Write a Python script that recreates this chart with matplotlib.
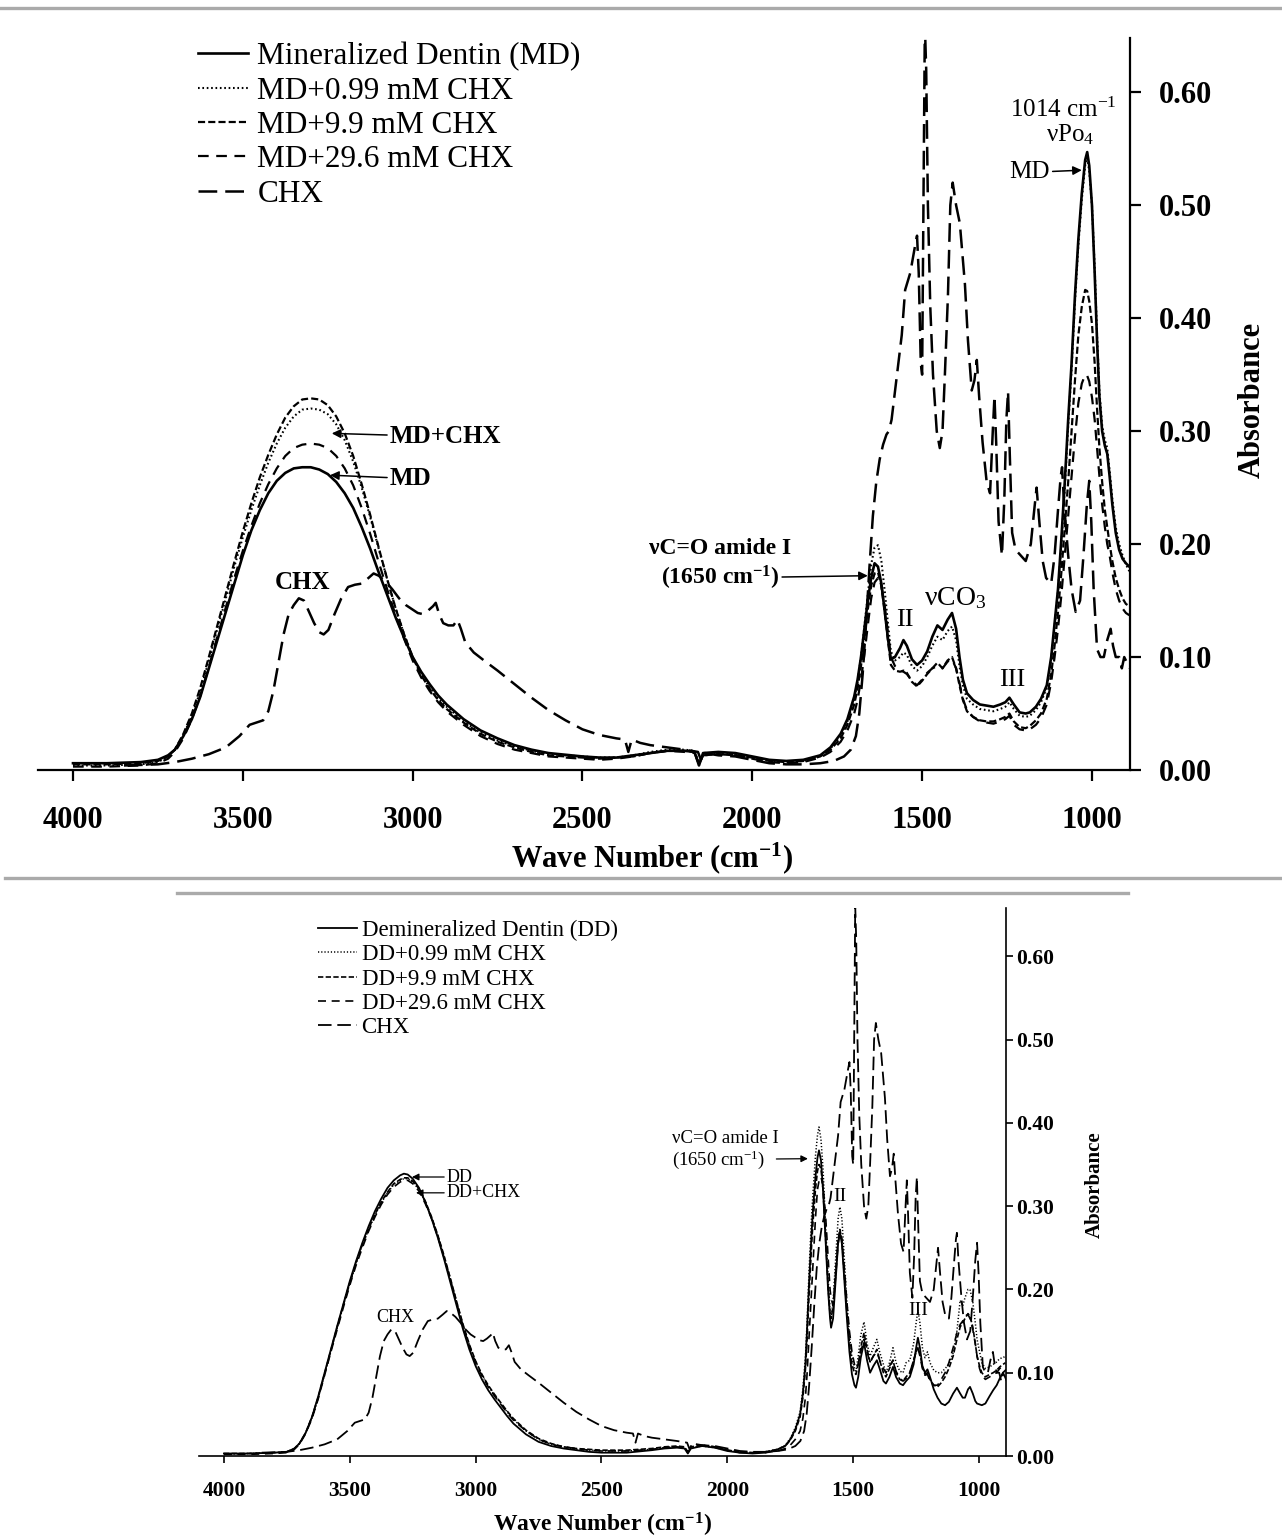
import matplotlib
matplotlib.use("Agg")
import matplotlib.pyplot as plt
from matplotlib.lines import Line2D

plt.rcParams['font.family'] = ['Liberation Serif', 'DejaVu Serif']
plt.rcParams['mathtext.default'] = 'regular'

# ---------------- data: top panel (mineralized dentin) ----------------
wn_top = [4000, 3900, 3800, 3750, 3720, 3700, 3675, 3650, 3625, 3600,
          3575, 3550, 3525, 3500, 3475, 3450, 3425, 3400, 3375, 3350,
          3325, 3300, 3275, 3250, 3225, 3200, 3175, 3150, 3125, 3100,
          3075, 3050, 3025, 3000, 2975, 2950, 2925, 2900, 2850, 2800,
          2750, 2700, 2650, 2600, 2500, 2450, 2400, 2350, 2300, 2250,
          2200, 2170, 2157, 2145, 2100, 2050, 2000, 1950, 1900, 1850,
          1800, 1770, 1740, 1720, 1700, 1690, 1680, 1670, 1660, 1650,
          1640, 1630, 1620, 1610, 1600, 1592, 1580, 1565, 1555, 1545,
          1530, 1515, 1500, 1485, 1470, 1455, 1440, 1425, 1412, 1400,
          1390, 1380, 1368, 1350, 1330, 1310, 1290, 1270, 1255, 1243,
          1230, 1213, 1195, 1183, 1165, 1150, 1133, 1120, 1110, 1100,
          1090, 1080, 1070, 1060, 1050, 1040, 1030, 1020, 1014, 1008,
          1000, 992, 985, 978, 970, 962, 955, 948, 940, 930,
          920, 910, 900, 890]

md = [.006, .006, .007, .009, .013, .018, .030, .045, .065, .090,
      .115, .140, .165, .190, .212, .230, .245, .256, .263, .267,
      .268, .268, .266, .262, .255, .245, .232, .215, .196, .175,
      .155, .135, .117, .100, .087, .076, .066, .058, .045, .035,
      .028, .022, .018, .015, .012, .011, .011, .013, .015, .017,
      .017, .016, .004, .015, .016, .015, .012, .009, .008, .009,
      .013, .020, .032, .045, .065, .080, .100, .125, .150, .170,
      .183, .180, .165, .140, .115, .098, .100, .108, .115, .110,
      .098, .093, .097, .105, .118, .128, .124, .133, .139, .125,
      .100, .080, .068, .062, .058, .057, .056, .058, .060, .064,
      .058, .051, .050, .051, .056, .063, .075, .100, .130, .160,
      .205, .255, .310, .360, .420, .470, .510, .540, .547, .535,
      .500, .440, .380, .330, .300, .287, .280, .260, .235, .210,
      .195, .187, .183, .180]

md_099 = [.004, .004, .005, .007, .012, .018, .031, .048, .070, .097,
          .125, .152, .180, .206, .230, .252, .272, .289, .303, .313,
          .319, .320, .319, .315, .306, .292, .273, .250, .224, .196,
          .169, .143, .120, .100, .085, .073, .063, .056, .043, .033,
          .026, .021, .017, .014, .012, .011, .011, .013, .016, .018,
          .018, .017, .005, .014, .015, .014, .011, .008, .007, .008,
          .012, .019, .030, .043, .063, .078, .100, .127, .155, .182,
          .197, .199, .185, .158, .128, .105, .097, .100, .104, .102,
          .092, .088, .092, .100, .110, .118, .115, .123, .127, .115,
          .092, .075, .063, .058, .054, .053, .052, .054, .056, .060,
          .054, .048, .047, .048, .053, .060, .073, .098, .127, .158,
          .200, .250, .305, .355, .415, .465, .505, .535, .542, .530,
          .500, .445, .385, .335, .305, .292, .285, .265, .240, .215,
          .200, .190, .182, .176]

md_99 = [.005, .005, .006, .008, .012, .018, .032, .050, .073, .100,
         .128, .156, .184, .211, .236, .259, .279, .297, .312, .322,
         .328, .329, .328, .323, .313, .298, .278, .253, .226, .197,
         .169, .143, .120, .100, .084, .072, .062, .054, .042, .032,
         .025, .020, .016, .013, .011, .010, .011, .012, .015, .017,
         .017, .016, .005, .013, .014, .013, .011, .008, .007, .008,
         .012, .018, .028, .040, .058, .072, .092, .117, .142, .163,
         .174, .175, .163, .140, .113, .093, .088, .087, .088, .086,
         .078, .074, .079, .085, .090, .095, .090, .097, .100, .090,
         .075, .062, .052, .047, .044, .043, .043, .045, .047, .050,
         .043, .038, .037, .039, .044, .050, .063, .085, .110, .140,
         .175, .215, .255, .300, .345, .385, .410, .425, .424, .415,
         .395, .360, .320, .285, .255, .230, .215, .200, .185, .170,
         .160, .152, .147, .145]

md_296 = [.003, .003, .004, .006, .010, .016, .028, .045, .066, .091,
          .118, .144, .170, .194, .216, .236, .253, .267, .278, .285,
          .288, .289, .288, .285, .278, .267, .252, .232, .209, .184,
          .160, .137, .116, .097, .082, .070, .060, .052, .040, .030,
          .023, .018, .015, .012, .010, .009, .010, .012, .015, .017,
          .016, .015, .005, .013, .014, .013, .010, .007, .006, .007,
          .011, .016, .025, .035, .050, .062, .080, .102, .128, .152,
          .166, .170, .163, .145, .120, .100, .092, .088, .087, .085,
          .079, .075, .080, .086, .090, .092, .090, .096, .098, .090,
          .077, .063, .053, .047, .043, .042, .041, .043, .045, .048,
          .040, .036, .035, .036, .040, .046, .058, .078, .100, .125,
          .155, .190, .225, .260, .295, .325, .342, .350, .349, .344,
          .330, .310, .285, .260, .235, .215, .200, .190, .175, .160,
          .150, .143, .139, .137]

# ---------------- data: chlorhexidine alone (both panels) ----------------
chx_wn = [3850, 3750, 3700, 3650, 3600, 3550, 3510, 3480, 3460, 3440,
          3425, 3410, 3395, 3380, 3365, 3350, 3335, 3320, 3305, 3290,
          3275, 3262, 3248, 3230, 3210, 3190, 3170, 3150, 3130, 3115,
          3100, 3080, 3060, 3040, 3020, 3000, 2985, 2970, 2955, 2940,
          2932, 2922, 2910, 2895, 2880, 2868, 2858, 2845, 2820, 2790,
          2750, 2700, 2650, 2600, 2550, 2500, 2450, 2400, 2375, 2365,
          2355, 2330, 2300, 2250, 2200, 2160, 2150, 2140, 2100, 2050,
          2000, 1950, 1900, 1850, 1800, 1760, 1730, 1710, 1695, 1685,
          1675, 1665, 1655, 1645, 1635, 1625, 1615, 1605, 1598, 1590,
          1580, 1570, 1560, 1550, 1535, 1522, 1515, 1510, 1504, 1500,
          1496, 1492, 1488, 1483, 1476, 1468, 1457, 1448, 1440, 1433,
          1424, 1417, 1410, 1400, 1389, 1374, 1365, 1354, 1346, 1339,
          1332, 1322, 1310, 1300, 1292, 1287, 1282, 1275, 1265, 1258,
          1252, 1247, 1242, 1235, 1225, 1210, 1195, 1180, 1170, 1163,
          1155, 1145, 1135, 1120, 1110, 1100, 1092, 1088, 1082, 1070,
          1060, 1048, 1035, 1025, 1015, 1008, 1002, 995, 985, 975,
          965, 955, 945, 938, 930, 920, 912, 905, 897, 890]

chx_abs = [.004, .005, .007, .010, .014, .020, .030, .040, .042, .044,
           .052, .070, .095, .120, .138, .146, .152, .150, .140, .130,
           .122, .120, .124, .138, .152, .162, .164, .165, .170, .174,
           .172, .167, .160, .152, .146, .142, .139, .138, .141, .145,
           .148, .138, .130, .128, .128, .133, .125, .113, .104, .097,
           .088, .076, .064, .053, .044, .036, .031, .028, .027, .016,
           .027, .024, .022, .020, .018, .016, .008, .015, .013, .012,
           .009, .006, .005, .005, .006, .008, .012, .018, .030, .050,
           .085, .130, .180, .225, .255, .275, .288, .297, .300, .310,
           .335, .360, .385, .425, .440, .462, .473, .440, .360, .350,
           .500, .660, .620, .500, .410, .350, .300, .285, .300, .350,
           .420, .500, .520, .500, .484, .430, .380, .336, .345, .363,
           .330, .290, .255, .245, .300, .331, .290, .220, .190, .240,
           .310, .335, .280, .210, .195, .190, .185, .200, .230, .250,
           .220, .185, .170, .165, .190, .230, .260, .268, .235, .190,
           .160, .140, .150, .190, .235, .256, .220, .160, .107, .100,
           .100, .115, .125, .110, .100, .100, .090, .100, .095, .090]

# ---------------- data: bottom panel (demineralized dentin) ----------------
wn_bot = [4000, 3900, 3800, 3750, 3720, 3700, 3675, 3650, 3625, 3600,
          3575, 3550, 3525, 3500, 3475, 3450, 3425, 3400, 3375, 3350,
          3325, 3300, 3285, 3270, 3250, 3225, 3200, 3175, 3150, 3125,
          3100, 3075, 3050, 3025, 3000, 2975, 2950, 2925, 2900, 2875,
          2850, 2800, 2750, 2700, 2650, 2600, 2550, 2500, 2400, 2300,
          2250, 2200, 2170, 2157, 2145, 2100, 2050, 2000, 1950, 1900,
          1850, 1800, 1770, 1750, 1730, 1711, 1700, 1690, 1684, 1675,
          1665, 1660, 1650, 1642, 1636, 1628, 1620, 1610, 1600, 1592,
          1588, 1580, 1570, 1560, 1553, 1545, 1535, 1525, 1515, 1505,
          1495, 1489, 1480, 1470, 1457, 1445, 1433, 1420, 1406, 1395,
          1380, 1370, 1356, 1342, 1330, 1315, 1302, 1290, 1275, 1260,
          1250, 1243, 1235, 1225, 1215, 1205, 1195, 1180, 1165, 1150,
          1135, 1120, 1103, 1088, 1075, 1065, 1056, 1044, 1036, 1025,
          1015, 1008, 998, 989, 975, 958, 944, 930, 918, 905,
          895]

dd = [.003, .003, .004, .005, .009, .015, .028, .047, .072, .100,
      .128, .156, .183, .210, .234, .256, .276, .294, .309, .322,
      .331, .337, .339, .338, .333, .322, .305, .285, .262, .236,
      .208, .180, .152, .128, .108, .092, .079, .068, .058, .048,
      .039, .026, .017, .012, .009, .007, .005, .004, .004, .007,
      .009, .010, .009, .003, .009, .012, .010, .006, .004, .003,
      .004, .008, .012, .020, .032, .050, .075, .110, .148, .210,
      .270, .295, .335, .358, .367, .355, .320, .260, .200, .165,
      .154, .165, .210, .255, .269, .255, .210, .165, .125, .098,
      .085, .082, .095, .118, .136, .115, .100, .108, .115, .105,
      .090, .087, .095, .107, .095, .087, .085, .090, .095, .110,
      .130, .142, .130, .108, .100, .104, .095, .080, .070, .063,
      .061, .065, .075, .082, .075, .070, .070, .080, .083, .075,
      .066, .063, .062, .061, .063, .072, .079, .085, .093, .100,
      .103]

dd_099 = [.002, .003, .004, .005, .009, .015, .028, .046, .070, .098,
          .126, .154, .181, .207, .231, .253, .272, .289, .304, .316,
          .326, .331, .333, .333, .329, .320, .305, .286, .264, .239,
          .212, .184, .157, .133, .113, .097, .084, .073, .063, .053,
          .044, .030, .020, .014, .011, .008, .007, .006, .006, .008,
          .010, .011, .010, .004, .010, .012, .010, .007, .005, .004,
          .005, .008, .013, .021, .034, .053, .080, .118, .155, .225,
          .290, .315, .360, .385, .395, .380, .345, .280, .215, .175,
          .165, .185, .235, .285, .299, .285, .235, .185, .145, .118,
          .105, .102, .120, .145, .161, .135, .120, .130, .140, .125,
          .110, .100, .112, .130, .112, .102, .100, .112, .115, .135,
          .160, .175, .160, .130, .118, .125, .112, .103, .100, .100,
          .105, .110, .124, .150, .187, .180, .190, .200, .200, .185,
          .160, .140, .125, .112, .105, .107, .110, .113, .117, .118,
          .120]

dd_99 = [.003, .003, .004, .005, .009, .015, .028, .047, .071, .099,
         .127, .155, .182, .208, .232, .254, .273, .290, .305, .317,
         .327, .332, .334, .334, .330, .321, .306, .287, .265, .240,
         .213, .185, .158, .134, .114, .098, .085, .074, .064, .054,
         .045, .031, .021, .015, .011, .009, .008, .007, .007, .009,
         .011, .012, .011, .005, .011, .013, .011, .007, .005, .004,
         .005, .008, .012, .019, .030, .047, .070, .103, .135, .197,
         .255, .280, .320, .342, .350, .345, .320, .265, .205, .170,
         .165, .180, .220, .260, .272, .260, .215, .172, .135, .110,
         .100, .098, .110, .130, .148, .128, .113, .120, .128, .115,
         .100, .095, .105, .115, .100, .092, .090, .095, .100, .115,
         .125, .130, .123, .107, .098, .100, .092, .085, .083, .088,
         .095, .105, .120, .140, .155, .160, .165, .171, .168, .155,
         .135, .120, .108, .100, .095, .098, .100, .103, .107, .110,
         .112]

dd_296 = [.002, .002, .003, .004, .008, .014, .027, .045, .069, .097,
          .125, .152, .179, .205, .229, .250, .270, .287, .302, .314,
          .323, .329, .331, .331, .327, .318, .303, .285, .263, .238,
          .211, .183, .156, .132, .112, .096, .083, .072, .062, .052,
          .043, .030, .020, .014, .011, .009, .007, .006, .006, .008,
          .010, .011, .010, .004, .010, .013, .011, .007, .004, .004,
          .004, .006, .009, .013, .020, .030, .045, .070, .095, .145,
          .200, .230, .285, .320, .330, .335, .325, .290, .240, .200,
          .190, .180, .215, .255, .268, .260, .225, .185, .150, .125,
          .110, .105, .110, .125, .140, .125, .112, .120, .125, .115,
          .105, .100, .108, .115, .102, .093, .090, .093, .100, .115,
          .125, .130, .120, .105, .097, .098, .090, .085, .085, .092,
          .100, .112, .130, .148, .158, .162, .168, .170, .165, .152,
          .135, .120, .105, .097, .092, .095, .098, .100, .105, .108,
          .110]

top_labels = ['Mineralized Dentin (MD)', 'MD+0.99 mM CHX', 'MD+9.9 mM CHX',
              'MD+29.6 mM CHX', 'CHX']
bot_labels = ['Demineralized Dentin (DD)', 'DD+0.99 mM CHX', 'DD+9.9 mM CHX',
              'DD+29.6 mM CHX', 'CHX']
x_ticks = [4000, 3500, 3000, 2500, 2000, 1500, 1000]
y_ticks = [0.0, 0.1, 0.2, 0.3, 0.4, 0.5, 0.6]

# ---------------- figure ----------------
W, H = 1282, 1537
fig = plt.figure(figsize=(W / 100, H / 100), dpi=100)


def fx(px):
    return px / W


def fy(py):
    return 1 - py / H


styles = [
    dict(ls='-'),
    dict(ls=(0, (0.8, 1.3))),
    dict(ls=(0, (3.2, 1.4))),
    dict(ls=(0, (4.8, 3.4))),
    dict(ls=(0, (7.5, 3.2))),
]


def setup_axes(ax, xlim, ylim, tsize, tlen, xpad, ypad, lw):
    ax.set_xlim(*xlim)
    ax.set_ylim(*ylim)
    ax.spines['top'].set_visible(False)
    ax.spines['left'].set_visible(False)
    ax.spines['right'].set_linewidth(lw)
    ax.spines['bottom'].set_linewidth(lw)
    ax.yaxis.tick_right()
    ax.set_xticks(x_ticks)
    ax.set_xticklabels([str(t) for t in x_ticks], fontsize=tsize, fontweight='bold')
    ax.set_yticks(y_ticks)
    ax.set_yticklabels(['%.2f' % t for t in y_ticks], fontsize=tsize, fontweight='bold')
    ax.tick_params(axis='x', direction='out', length=tlen, width=lw, pad=xpad)
    ax.tick_params(axis='y', direction='out', length=tlen, width=lw, pad=ypad)


# ---- top panel ----
ax1 = fig.add_axes([fx(38), fy(770), fx(1130) - fx(38), fy(38) - fy(770)])
setup_axes(ax1, (4103, 888), (0, 0.648), 22, 8, 18, 13, 1.6)
series_top = [(wn_top, md), (wn_top, md_099), (wn_top, md_99), (wn_top, md_296),
              (chx_wn, chx_abs)]
lws_top = [1.9, 1.5, 1.6, 1.6, 1.8]
for (x, y), st, lab, lw in zip(series_top, styles, top_labels, lws_top):
    ax1.plot(x, y, color='black', lw=lw, label=lab, **st)
ax1.legend(loc='upper left', bbox_to_anchor=(fx(198), fy(42)),
           bbox_transform=fig.transFigure, frameon=False, fontsize=22.5,
           handlelength=1.6, handletextpad=0.3, labelspacing=0.17,
           borderpad=0, borderaxespad=0)

fig.text(fx(652), fy(858), 'Wave Number (cm$^{-1}$)', fontsize=22,
         fontweight='bold', ha='center', va='center')
fig.text(fx(1252), fy(400), 'Absorbance', fontsize=22, fontweight='bold',
         rotation=90, ha='center', va='center')

arw = dict(arrowstyle='-|>', color='black', lw=1.1, mutation_scale=13,
           shrinkA=0, shrinkB=0)
ax1.annotate('MD+CHX', xy=(3238, 0.298), xytext=(3067, 0.295), fontsize=18,
             fontweight='bold', ha='left', va='center', arrowprops=arw)
ax1.annotate('MD', xy=(3243, 0.261), xytext=(3067, 0.258), fontsize=18,
             fontweight='bold', ha='left', va='center', arrowprops=arw)
ax1.text(3323, 0.166, 'CHX', fontsize=18, fontweight='bold', ha='center', va='center')
ax1.text(2095, 0.196, 'νC=O amide I', fontsize=17, fontweight='bold',
         ha='center', va='center')
ax1.annotate('(1650 cm$^{-1}$)', xy=(1660, 0.172), xytext=(2095, 0.170),
             fontsize=17, fontweight='bold', ha='center', va='center',
             arrowprops=dict(arw, shrinkA=62))
ax1.text(1551, 0.133, 'II', fontsize=19, ha='center', va='center')
ax1.text(1404, 0.152, 'νCO$_3$', fontsize=20, ha='center', va='center')
ax1.text(1236, 0.080, 'III', fontsize=19, ha='center', va='center')
ax1.text(1083, 0.584, '1014 cm$^{-1}$', fontsize=18, ha='center', va='center')
ax1.text(1065, 0.562, 'νPo$_4$', fontsize=18, ha='center', va='center')
ax1.annotate('MD', xy=(1030, 0.531), xytext=(1124, 0.529), fontsize=18,
             ha='right', va='center', arrowprops=arw)

# ---- bottom panel ----
ax2 = fig.add_axes([fx(199), fy(1456), fx(1006) - fx(199), fy(908) - fy(1456)])
setup_axes(ax2, (4099, 893), (0, 0.658), 15.5, 5, 13, 2, 1.2)
series_bot = [(wn_bot, dd), (wn_bot, dd_099), (wn_bot, dd_99), (wn_bot, dd_296),
              (chx_wn, chx_abs)]
lws_bot = [1.3, 1.1, 1.2, 1.2, 1.3]
for (x, y), st, lab, lw in zip(series_bot, styles, bot_labels, lws_bot):
    ax2.plot(x, y, color='black', lw=lw, label=lab, **st)
ax2.legend(loc='upper left', bbox_to_anchor=(fx(318), fy(920)),
           bbox_transform=fig.transFigure, frameon=False, fontsize=16.5,
           handlelength=1.7, handletextpad=0.2, labelspacing=0.14,
           borderpad=0, borderaxespad=0)

fig.text(fx(602), fy(1525), 'Wave Number (cm$^{-1}$)', fontsize=17,
         fontweight='bold', ha='center', va='center')
fig.text(fx(1095), fy(1185), 'Absorbance', fontsize=15, fontweight='bold',
         rotation=90, ha='center', va='center')

arw2 = dict(arrowstyle='-|>', color='black', lw=0.9, mutation_scale=10,
            shrinkA=0, shrinkB=0)
ax2.annotate('DD', xy=(3253, 0.335), xytext=(3114, 0.335), fontsize=13,
             ha='left', va='center', arrowprops=arw2)
ax2.annotate('DD+CHX', xy=(3237, 0.316), xytext=(3114, 0.316), fontsize=13,
             ha='left', va='center', arrowprops=arw2)
ax2.text(3321, 0.166, 'CHX', fontsize=13, ha='center', va='center')
ax2.text(2220, 0.381, 'νC=O amide I', fontsize=13.5, ha='left', va='center')
ax2.annotate('(1650 cm$^{-1}$)', xy=(1680, 0.357), xytext=(2220, 0.356),
             fontsize=13.5, ha='left', va='center',
             arrowprops=dict(arw2, shrinkA=6))
ax2.text(1553, 0.311, 'II', fontsize=14, ha='center', va='center')
ax2.text(1243, 0.175, 'III', fontsize=14, ha='center', va='center')

# ---- grey separator rules ----
for x0, x1, y in [(0, W, 8), (5, W, 878), (177, 1128, 893)]:
    fig.add_artist(Line2D([fx(x0), fx(x1)], [fy(y), fy(y)], color='#aaaaaa',
                          lw=2.4, transform=fig.transFigure))

fig.savefig('out.png', dpi=100)
